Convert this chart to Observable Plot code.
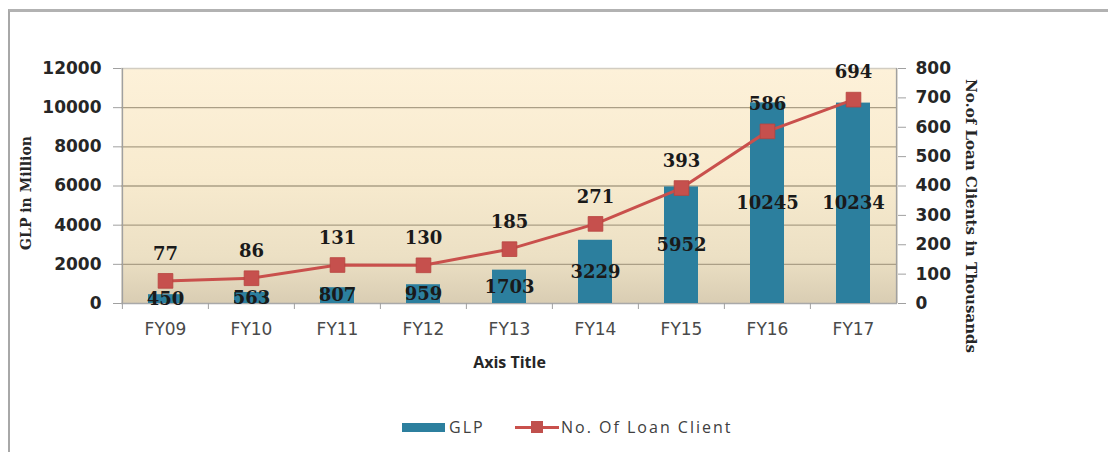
<!DOCTYPE html>
<html>
<head>
<meta charset="utf-8">
<script src="https://cdn.jsdelivr.net/npm/d3@7"></script>
<script src="https://cdn.jsdelivr.net/npm/@observablehq/plot@0.6"></script>
<style>
  html, body { margin: 0; padding: 0; background: #ffffff; width: 1108px; height: 452px; overflow: hidden; }
  #border { position: absolute; left: 8px; top: 9px; width: 1120px; height: 460px; border-left: 2px solid #a8a8a8; border-top: 3px solid #b2b2b2; box-sizing: border-box; }
  #chart { position: absolute; left: 0; top: 0; }
  .leg { position: absolute; font-family: "Open Sans", sans-serif; font-size: 16px; letter-spacing: 2px; color: #404040; line-height: 20px; white-space: nowrap; }
</style>
</head>
<body>
<div id="border"></div>
<div id="chart"></div>
<div id="legend">
  <div style="position:absolute;left:402px;top:423px;width:43px;height:9px;background:#2c7f9e;"></div>
  <div class="leg" style="left:449px;top:417px;">GLP</div>
  <div style="position:absolute;left:515px;top:426px;width:44px;height:3px;background:#c9504c;"></div>
  <div style="position:absolute;left:531px;top:421px;width:12px;height:12px;background:#c0504d;"></div>
  <div class="leg" style="left:561px;top:417px;">No. Of Loan Client</div>
</div>
<script>
// ---- data ----
const years = ["FY09", "FY10", "FY11", "FY12", "FY13", "FY14", "FY15", "FY16", "FY17"];
const glp = [450, 563, 807, 959, 1703, 3229, 5952, 10245, 10234];
const clients = [77, 86, 131, 130, 185, 271, 393, 586, 694];
const leftTicks = [0, 2000, 4000, 6000, 8000, 10000, 12000];
const rightTicks = [0, 100, 200, 300, 400, 500, 600, 700, 800];
const leftTitle = "GLP in Million";
const rightTitle = "No.of Loan Clients in Thousands";
const xTitle = "Axis Title";

const table = years.map((year, i) => ({year, glp: glp[i], clients: clients[i]}));
const k = 12000 / 800; // secondary axis factor (right axis 0–800 onto left 0–12000)

const barColor = "#2c7f9e";
const lineColor = "#c9504c";
const serif = "DejaVu Serif";
const step = 776 / 9;

const chart = Plot.plot({
  width: 1108,
  height: 380,
  marginLeft: 121,
  marginRight: 211,
  marginTop: 68,
  marginBottom: 77,
  style: {background: "transparent", overflow: "visible"},
  x: {domain: years, paddingInner: 0.6, paddingOuter: 0.3, align: 0.5},
  y: {domain: [0, 12000]},
  marks: [
    Plot.frame({fill: "url(#plotBg)", stroke: null}),
    Plot.gridY(leftTicks.slice(1, -1), {stroke: "#ab9f86", strokeOpacity: 1, strokeWidth: 1.3}),
    Plot.gridY([12000], {stroke: "#d2cdc2", strokeOpacity: 1, strokeWidth: 1.5}),
    Plot.ruleY([0], {stroke: "#a9a9a9", strokeWidth: 1.5}),
    Plot.axisY(leftTicks, {anchor: "left", tickSize: 8, tickPadding: 12, stroke: "#a0a0a0",
      tickFormat: d => String(d),
      fontFamily: "DejaVu Sans", fontWeight: "bold", fontSize: 17, fill: "#262626", label: null}),
    Plot.axisY(rightTicks.map(d => d * k), {anchor: "right", tickSize: 8, tickPadding: 10, stroke: "#a0a0a0",
      tickFormat: d => String(Math.round(d / k)),
      fontFamily: "DejaVu Sans", fontWeight: "bold", fontSize: 17, fill: "#262626", label: null}),
    Plot.axisX({anchor: "bottom", tickSize: 6, tickFormat: () => "", dx: -step / 2, stroke: "#a0a0a0", label: null}),
    Plot.axisX({anchor: "bottom", tickSize: 0, tickPadding: 19, label: null,
      fontFamily: "DejaVu Sans", fontSize: 17, fill: "#4a4a4a", ariaLabel: "xticklabels"}),
    Plot.ruleX([0], {x: () => years[0], dx: -step / 2, stroke: "#a0a0a0", strokeWidth: 1.5}),
    Plot.ruleX([0], {x: () => years[years.length - 1], dx: step / 2, stroke: "#a0a0a0", strokeWidth: 1.5}),
    Plot.barY(table, {x: "year", y: "glp", fill: barColor}),
    Plot.text(table, {x: "year", y: d => d.glp / 2, text: d => String(d.glp),
      fontFamily: serif, fontWeight: "bold", fontSize: 18, fill: "#1a1a1a"}),
    Plot.line(table, {x: "year", y: d => d.clients * k, stroke: lineColor, strokeWidth: 3}),
    Plot.dot(table, {x: "year", y: d => d.clients * k, symbol: "square", r: 8.3, fill: "#c6504d", stroke: "#b8443f", strokeWidth: 0.8}),
    Plot.text(table, {x: "year", y: d => d.clients * k, dy: -27, text: d => String(d.clients),
      fontFamily: serif, fontWeight: "bold", fontSize: 18, fill: "#1a1a1a"}),
    Plot.text([leftTitle], {frameAnchor: "left", textAnchor: "middle", lineAnchor: "middle", dx: -95, dy: 7, rotate: -90, text: d => d,
      fontFamily: serif, fontWeight: "bold", fontSize: 14, fill: "#262626"}),
    Plot.text([rightTitle], {frameAnchor: "right", textAnchor: "middle", lineAnchor: "middle", dx: 73, dy: 30, rotate: 90, text: d => d,
      fontFamily: serif, fontWeight: "bold", fontSize: 15, fill: "#262626"}),
    Plot.text([xTitle], {frameAnchor: "bottom", lineAnchor: "middle", dy: 59, text: d => d,
      fontFamily: "Open Sans", fontWeight: "bold", fontSize: 16, fill: "#262626"})
  ]
});

// gradient background for the plot area
const ns = "http://www.w3.org/2000/svg";
const defs = document.createElementNS(ns, "defs");
const grad = document.createElementNS(ns, "linearGradient");
grad.setAttribute("id", "plotBg");
grad.setAttribute("x1", "0"); grad.setAttribute("y1", "0");
grad.setAttribute("x2", "0"); grad.setAttribute("y2", "1");
[["0", "#fdf1d9"], ["0.45", "#f8ebcf"], ["0.8", "#ece0c4"], ["1", "#d9cdb3"]].forEach(([o, c]) => {
  const s = document.createElementNS(ns, "stop");
  s.setAttribute("offset", o); s.setAttribute("stop-color", c);
  grad.appendChild(s);
});
defs.appendChild(grad);
chart.insertBefore(defs, chart.firstChild);

d3.select(chart).selectAll('g[aria-label="xticklabels"] text').style("letter-spacing", "2.5px");

document.getElementById("chart").appendChild(chart);
</script>
</body>
</html>
